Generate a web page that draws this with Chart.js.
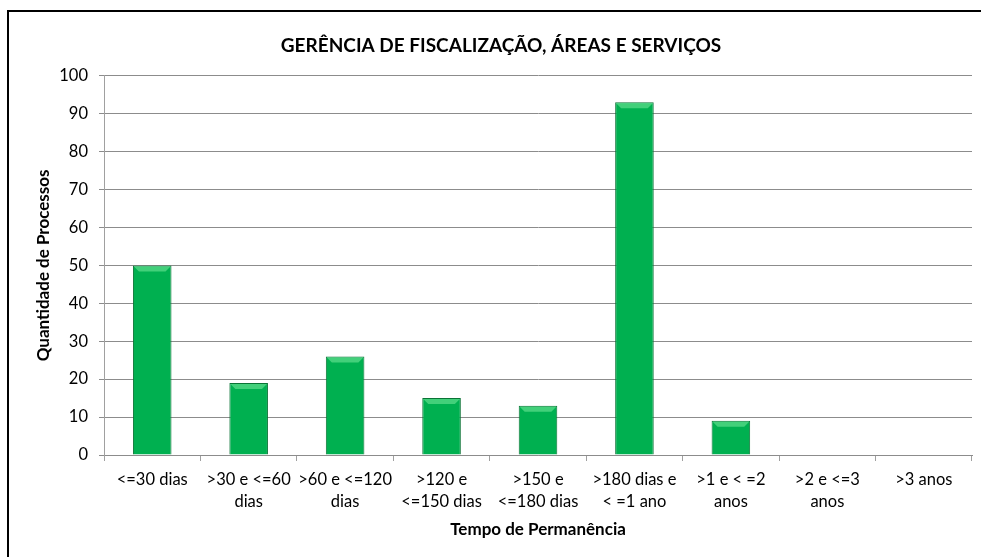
<!DOCTYPE html>
<html>
<head>
<meta charset="utf-8">
<script src="https://cdn.jsdelivr.net/npm/chart.js@4/dist/chart.umd.min.js"></script>
<style>
    html, body { margin: 0; padding: 0; background: #fff; }
    #wrap { position: relative; width: 981px; height: 557px; overflow: hidden; }
    #frame { position: absolute; left: 7px; top: 10px; width: 990px; height: 600px;
             border-top: 2px solid #000; border-left: 2px solid #000; box-sizing: border-box; }
    canvas { position: absolute; left: 0; top: 0; }
</style>
</head>
<body>
<div id="wrap">
    <div id="frame"></div>
    <canvas id="chart" width="981" height="557"></canvas>
</div>
<script>
const categories = [
    '<=30 dias',
    ['>30 e <=60', 'dias'],
    ['>60 e <=120', 'dias'],
    ['>120 e', '<=150 dias'],
    ['>150 e', '<=180 dias'],
    ['>180 dias e', '< =1 ano'],
    ['>1 e < =2', 'anos'],
    ['>2 e <=3', 'anos'],
    '>3 anos'
];
const processos = [50, 19, 26, 15, 13, 93, 9, 0, 0];
const yTicks = [0, 10, 20, 30, 40, 50, 60, 70, 80, 90, 100];

const FONT = 'Lato, "Open Sans", sans-serif';

function barGradient(context) {
    const { chart } = context;
    const area = chart.chartArea;
    const el = context.element;
    if (!area || !el || el.width === undefined) return '#00b050';
    const left = el.x - el.width / 2;
    const g = chart.ctx.createLinearGradient(left, 0, left + el.width, 0);
    g.addColorStop(0, '#07853d');
    g.addColorStop(0.1, '#00b050');
    g.addColorStop(0.9, '#00b552');
    g.addColorStop(1, '#07853d');
    return g;
}

// small bevel on the top of each bar
const bevel = {
    id: 'bevel',
    afterDatasetsDraw(chart) {
        const ctx = chart.ctx;
        chart.getDatasetMeta(0).data.forEach(bar => {
            const h = bar.base - bar.y;
            if (h < 4) return;
            const left = bar.x - bar.width / 2;
            const right = bar.x + bar.width / 2;
            const d = Math.min(6, h / 2);
            ctx.save();
            ctx.fillStyle = 'rgba(110,230,150,0.6)';
            ctx.beginPath();
            ctx.moveTo(left + 1, bar.y + 1);
            ctx.lineTo(right - 1, bar.y + 1);
            ctx.lineTo(right - d, bar.y + d);
            ctx.lineTo(left + d, bar.y + d);
            ctx.closePath();
            ctx.fill();
            ctx.restore();
        });
    }
};

new Chart(document.getElementById('chart'), {
    type: 'bar',
    data: {
        labels: categories,
        datasets: [{
            data: processos,
            backgroundColor: barGradient,
            borderColor: '#0a7335',
            borderWidth: 1,
            barPercentage: 0.4,
            categoryPercentage: 1
        }]
    },
    options: {
        responsive: false,
        animation: false,
        layout: { padding: { left: 30, right: 9, top: 0, bottom: 0 } },
        plugins: {
            legend: { display: false },
            tooltip: { enabled: false },
            title: {
                display: true,
                text: 'GERÊNCIA DE FISCALIZAÇÃO, ÁREAS E SERVIÇOS',
                color: '#000',
                font: { family: FONT, size: 19, weight: 'bold' },
                padding: { top: 34, bottom: 19 }
            }
        },
        scales: {
            x: {
                offset: true,
                grid: {
                    offset: true,
                    drawOnChartArea: false,
                    tickLength: 6,
                    color: '#a0a0a0'
                },
                border: { color: '#8c8c8c' },
                ticks: {
                    color: '#000',
                    maxRotation: 0,
                    autoSkip: false,
                    padding: 8,
                    font: { family: FONT, size: 16.5, lineHeight: 1.315 }
                },
                title: {
                    display: true,
                    text: 'Tempo de Permanência',
                    color: '#000',
                    font: { family: FONT, size: 17, weight: 'bold' },
                    padding: { top: 0, bottom: 17 }
                },
                afterFit(scale) { scale.height = 102; }
            },
            y: {
                min: 0,
                max: 100,
                afterBuildTicks(scale) { scale.ticks = yTicks.map(v => ({ value: v })); },
                grid: { color: '#8c8c8c', tickLength: 5 },
                border: { color: '#a0a0a0' },
                ticks: {
                    color: '#000',
                    padding: 11,
                    font: { family: FONT, size: 16.5 }
                },
                title: {
                    display: true,
                    text: 'Quantidade de Processos',
                    color: '#000',
                    font: { family: FONT, size: 17, weight: 'bold' },
                    padding: { top: 3, bottom: 0 }
                },
                afterFit(scale) { scale.width = 74; }
            }
        }
    },
    plugins: [bevel]
});
</script>
</body>
</html>
